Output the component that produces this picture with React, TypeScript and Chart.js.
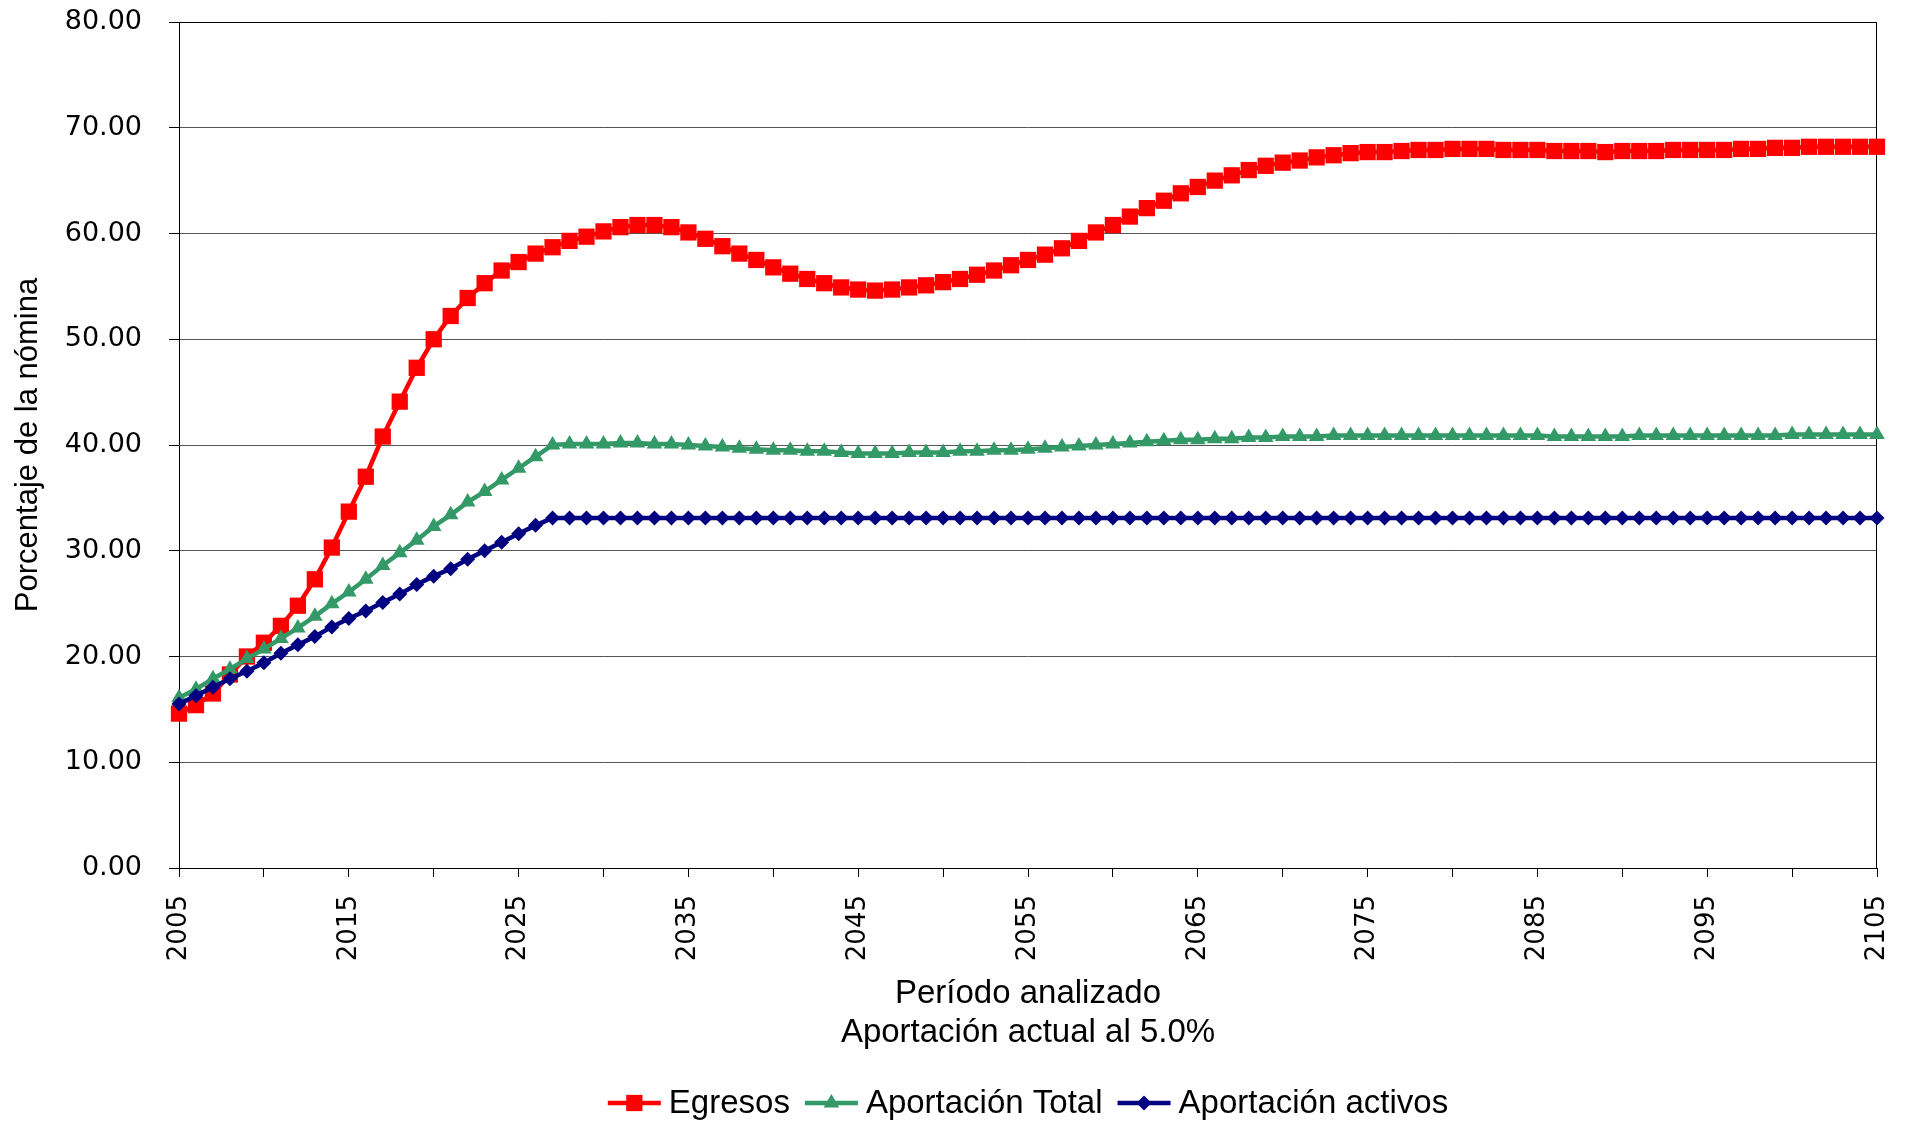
import React, { useEffect, useRef } from 'react';
import { Chart, registerables } from 'chart.js';

Chart.register(...registerables);

const years: number[] = Array.from({ length: 101 }, (_, i) => 2005 + i);

const egresos: number[] = [
  14.6, 15.4, 16.5, 18.3, 20.0, 21.3, 22.9, 24.8, 27.3, 30.3,
  33.7, 37.0, 40.8, 44.1, 47.3, 50.0, 52.2, 53.9, 55.3, 56.5,
  57.3, 58.1, 58.7, 59.3, 59.7, 60.2, 60.6, 60.8, 60.8, 60.6,
  60.1, 59.5, 58.8, 58.1, 57.5, 56.8, 56.2, 55.7, 55.3, 54.9,
  54.7, 54.6, 54.7, 54.9, 55.1, 55.4, 55.7, 56.1, 56.5, 57.0,
  57.5, 58.0, 58.6, 59.3, 60.1, 60.8, 61.6, 62.4, 63.1, 63.8,
  64.4, 65.0, 65.5, 66.0, 66.4, 66.7, 66.9, 67.2, 67.4, 67.6,
  67.7, 67.7, 67.8, 67.9, 67.9, 68.0, 68.0, 68.0, 67.9, 67.9,
  67.9, 67.8, 67.8, 67.8, 67.7, 67.8, 67.8, 67.8, 67.9, 67.9,
  67.9, 67.9, 68.0, 68.0, 68.1, 68.1, 68.2, 68.2, 68.2, 68.2,
  68.2,
];

const aportacionTotal: number[] = [
  16.1, 16.9, 17.9, 18.8, 19.8, 20.7, 21.7, 22.7, 23.8, 25.0,
  26.1, 27.3, 28.6, 29.8, 31.0, 32.3, 33.4, 34.6, 35.6, 36.7,
  37.8, 38.9, 40.0, 40.1, 40.1, 40.1, 40.2, 40.2, 40.1, 40.1,
  40.0, 39.9, 39.8, 39.7, 39.6, 39.5, 39.5, 39.4, 39.4, 39.3,
  39.2, 39.2, 39.2, 39.3, 39.3, 39.3, 39.4, 39.4, 39.5, 39.5,
  39.6, 39.7, 39.8, 39.9, 40.0, 40.1, 40.2, 40.3, 40.4, 40.5,
  40.5, 40.6, 40.6, 40.7, 40.7, 40.8, 40.8, 40.8, 40.9, 40.9,
  40.9, 40.9, 40.9, 40.9, 40.9, 40.9, 40.9, 40.9, 40.9, 40.9,
  40.9, 40.8, 40.8, 40.8, 40.8, 40.8, 40.9, 40.9, 40.9, 40.9,
  40.9, 40.9, 40.9, 40.9, 40.9, 41.0, 41.0, 41.0, 41.0, 41.0,
  41.0,
];

const aportacionActivos: number[] = [
  15.5, 16.3, 17.1, 17.9, 18.6, 19.4, 20.3, 21.1, 21.9, 22.8,
  23.6, 24.3, 25.1, 25.9, 26.8, 27.6, 28.3, 29.2, 30.0, 30.8,
  31.6, 32.4, 33.1, 33.1, 33.1, 33.1, 33.1, 33.1, 33.1, 33.1,
  33.1, 33.1, 33.1, 33.1, 33.1, 33.1, 33.1, 33.1, 33.1, 33.1,
  33.1, 33.1, 33.1, 33.1, 33.1, 33.1, 33.1, 33.1, 33.1, 33.1,
  33.1, 33.1, 33.1, 33.1, 33.1, 33.1, 33.1, 33.1, 33.1, 33.1,
  33.1, 33.1, 33.1, 33.1, 33.1, 33.1, 33.1, 33.1, 33.1, 33.1,
  33.1, 33.1, 33.1, 33.1, 33.1, 33.1, 33.1, 33.1, 33.1, 33.1,
  33.1, 33.1, 33.1, 33.1, 33.1, 33.1, 33.1, 33.1, 33.1, 33.1,
  33.1, 33.1, 33.1, 33.1, 33.1, 33.1, 33.1, 33.1, 33.1, 33.1,
  33.1,
];

const seriesLabels = ['Egresos', 'Aportación Total', 'Aportación activos'];
const seriesColors = ['#FF0000', '#339966', '#000080'];
const seriesStyles = ['rect', 'triangle', 'rectRot'];
const seriesRadius = [11.5, 9, 7.5];

const xTitle = ['Período analizado', 'Aportación actual al 5.0%'];
const yTitle = 'Porcentaje de la nómina';

function drawMarker(ctx: CanvasRenderingContext2D, style: string, x: number, y: number, r: number) {
  ctx.beginPath();
  if (style === 'rect') {
    const s = Math.SQRT1_2 * r;
    ctx.rect(x - s, y - s, 2 * s, 2 * s);
  } else if (style === 'triangle') {
    const xo = Math.cos(Math.PI / 6) * r;
    ctx.moveTo(x, y - r);
    ctx.lineTo(x + xo, y + r / 2);
    ctx.lineTo(x - xo, y + r / 2);
    ctx.closePath();
  } else {
    ctx.moveTo(x - r, y);
    ctx.lineTo(x, y - r);
    ctx.lineTo(x + r, y);
    ctx.lineTo(x, y + r);
    ctx.closePath();
  }
  ctx.fill();
}

const framePlugin = {
  id: 'frame',
  beforeDatasetsDraw(chart: any) {
    const { ctx, chartArea } = chart;
    ctx.save();
    ctx.strokeStyle = '#000';
    ctx.lineWidth = 1;
    ctx.beginPath();
    ctx.moveTo(chartArea.left, chartArea.top + 0.5);
    ctx.lineTo(chartArea.right, chartArea.top + 0.5);
    ctx.moveTo(chartArea.right - 0.5, chartArea.top);
    ctx.lineTo(chartArea.right - 0.5, chartArea.bottom);
    ctx.stroke();
    ctx.restore();
  },
};

const legendPlugin = {
  id: 'lineLegend',
  afterDraw(chart: any) {
    const { ctx, chartArea } = chart;
    ctx.save();
    ctx.font = '33px "Liberation Sans", Arial, sans-serif';
    ctx.textBaseline = 'middle';
    ctx.textAlign = 'left';
    const lineW = 53;
    const gapText = 8;
    const gapItem = 15;
    const widths = seriesLabels.map((t) => ctx.measureText(t).width);
    const total = widths.reduce((a, w) => a + lineW + gapText + w, 0) + gapItem * (seriesLabels.length - 1);
    let x = (chartArea.left + chartArea.right) / 2 - total / 2;
    const y = 1103;
    seriesLabels.forEach((label, i) => {
      ctx.strokeStyle = seriesColors[i];
      ctx.fillStyle = seriesColors[i];
      ctx.lineWidth = 4.5;
      ctx.beginPath();
      ctx.moveTo(x, y);
      ctx.lineTo(x + lineW, y);
      ctx.stroke();
      drawMarker(ctx, seriesStyles[i], x + lineW / 2, y, seriesRadius[i]);
      ctx.fillStyle = '#000';
      ctx.fillText(label, x + lineW + gapText, y + 1);
      x += lineW + gapText + widths[i] + gapItem;
    });
    ctx.restore();
  },
};

export default function App() {
  const ref = useRef<HTMLCanvasElement | null>(null);

  useEffect(() => {
    if (!ref.current) return;
    const seriesData = [egresos, aportacionTotal, aportacionActivos];
    const datasets = seriesData.map((vals, i) => ({
      label: seriesLabels[i],
      data: years.map((yr, j) => ({ x: yr, y: vals[j] })),
      borderColor: seriesColors[i],
      backgroundColor: seriesColors[i],
      pointBackgroundColor: seriesColors[i],
      pointBorderColor: seriesColors[i],
      pointBorderWidth: 0,
      borderWidth: 4.5,
      pointStyle: seriesStyles[i],
      pointRadius: seriesRadius[i],
      pointHoverRadius: seriesRadius[i],
      tension: 0,
      clip: false as any,
      order: 3 - i,
    }));

    const chart = new Chart(ref.current, {
      type: 'line',
      data: { datasets: datasets as any },
      options: {
        responsive: false,
        animation: false,
        events: [],
        layout: { autoPadding: false, padding: { left: 0, right: 30, top: 22, bottom: 69.5 } },
        plugins: {
          legend: { display: false },
          tooltip: { enabled: false },
        },
        scales: {
          x: {
            type: 'linear',
            min: 2005,
            max: 2105,
            ticks: {
              stepSize: 5,
              autoSkip: false,
              minRotation: 90,
              maxRotation: 90,
              padding: 18,
              color: '#000',
              font: { family: 'DejaVu Sans', size: 26 },
              callback: (v: any) => ((Number(v) - 2005) % 10 === 0 ? String(v) : ''),
            },
            grid: {
              drawOnChartArea: false,
              drawTicks: true,
              tickLength: 9,
              color: '#000',
            },
            border: { color: '#000', width: 1 },
            title: {
              display: true,
              text: xTitle,
              color: '#000',
              font: { family: 'Liberation Sans', size: 33, lineHeight: 1.18 },
              padding: { top: 0, bottom: 0 },
            },
            afterFit: (s: any) => {
              s.height = 184.5;
              s.paddingLeft = 0;
              s.paddingRight = 0;
              s.paddingTop = 0;
              s.paddingBottom = 0;
            },
          },
          y: {
            min: 0,
            max: 80,
            ticks: {
              stepSize: 10,
              padding: 27,
              color: '#000',
              font: { family: 'DejaVu Sans', size: 27 },
              callback: (v: any) => Number(v).toFixed(2),
            },
            grid: {
              color: '#555',
              tickColor: '#000',
              tickLength: 10,
            },
            border: { color: '#000', width: 1 },
            title: {
              display: true,
              text: yTitle,
              color: '#000',
              font: { family: 'Liberation Sans', size: 31, lineHeight: 1.2 },
              padding: { top: 10, bottom: 0 },
            },
            afterFit: (s: any) => {
              s.width = 179;
              s.paddingLeft = 0;
              s.paddingRight = 0;
              s.paddingTop = 0;
              s.paddingBottom = 0;
            },
          },
        },
      } as any,
      plugins: [framePlugin, legendPlugin],
    });
    return () => chart.destroy();
  }, []);

  return (
    <div style={{ position: 'fixed', left: 0, top: 0, width: 1907, height: 1122, background: '#fff' }}>
      <canvas ref={ref} width={1907} height={1122} style={{ width: 1907, height: 1122, display: 'block' }} />
    </div>
  );
}
